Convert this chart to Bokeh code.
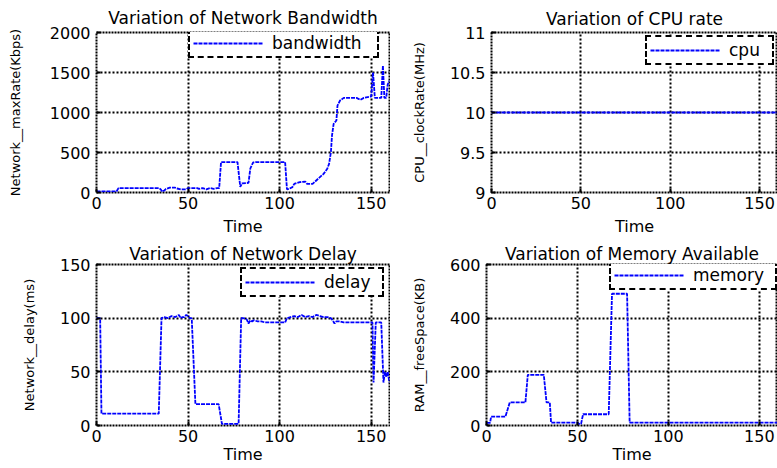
from bokeh.plotting import figure
from bokeh.layouts import column, row
from bokeh.models import FixedTicker, Range1d, NumeralTickFormatter
from bokeh.embed import file_html
from bokeh.resources import INLINE

FONT = "DejaVu Sans"

time_ticks = [0, 50, 100, 150]

# Network bandwidth (Kbps)
bw_t = [0, 11, 12, 34, 35, 36, 37, 38, 40, 43, 44, 46, 49, 50, 55, 56, 58, 60, 62, 64,
        66, 67, 68, 77, 78.5, 79.5, 83, 84, 85.5, 87, 103, 104, 105, 107, 108, 111, 114, 115, 118, 120,
        122, 124, 126, 127, 128, 128.6, 129.5, 131, 131.6, 133, 135, 142, 144, 146, 150, 151, 152, 155.5,
        156.4, 157.2, 158.2, 159, 160]
bw_v = [15, 15, 55, 55, 40, 10, 25, 45, 60, 60, 50, 40, 40, 55, 55, 45, 55, 40, 55, 45,
        55, 55, 380, 380, 70, 115, 120, 300, 375, 380, 380, 40, 45, 67, 108, 129, 137, 108, 108, 150,
        192, 233, 296, 358, 504, 712, 858, 900, 1087, 1150, 1183, 1183, 1158, 1183, 1200, 1500, 1183, 1183,
        1587, 1183, 1183, 1350, 1400]
bw_ticks = [0, 500, 1000, 1500, 2000]

# CPU clock rate (MHz)
cpu_t = [0, 160]
cpu_v = [10, 10]
cpu_ticks = [9, 9.5, 10, 10.5, 11]

# Network delay (ms)
delay_t = [0, 2, 2.7, 34, 35.5, 37, 39, 41, 43, 45, 46, 47, 48, 49, 50, 51, 52, 54, 66.7, 68.5,
           77.6, 79, 80, 82, 83, 84, 85, 86, 88, 90, 92, 100, 103, 104, 106, 108, 110, 112, 114, 116,
           118, 120, 122, 124, 126, 128, 129, 130, 131, 133, 135, 150, 150.7, 151.3, 152.5, 155.5,
           156.7, 157.5, 158.3, 159, 160]
delay_v = [100, 100, 11, 11, 100, 101, 100, 102, 101, 103, 100, 101, 101, 103, 102, 100, 100, 20, 20, 1.5,
           1.5, 100, 100, 99, 95, 98, 97, 98, 97, 97, 96, 96, 96, 100, 101, 102, 101, 103, 101, 102,
           101, 103, 102, 101, 101, 100, 98, 95, 97, 97, 96, 96, 96, 40, 96, 96,
           40, 50, 45, 50, 40]
delay_ticks = [0, 50, 100, 150]

# Memory available (KB)
mem_t = [0, 2, 2.5, 10.4, 12.8, 21.4, 22.7, 31.5, 33, 34.8, 35.5, 50, 51, 52, 53.1, 67.2, 69, 77.3, 78.7, 160]
mem_v = [10, 10, 33, 33, 86, 86, 189, 189, 86, 86, 11, 11, 6, 6, 42, 42, 491, 491, 11, 11]
mem_ticks = [0, 200, 400, 600]


def make(title, ylabel, xs, ys, legend, y_start, y_end, yticks, width, height,
         borders, legend_loc, label_width, ylabel_standoff, title_standoff,
         tick_standoff, xlabel_standoff, fmt=None):
    p = figure(width=width, height=height, output_backend="svg", toolbar_location=None,
               x_range=Range1d(0, 160), y_range=Range1d(y_start, y_end),
               min_border_left=borders[0], min_border_right=borders[1],
               min_border_top=borders[2], min_border_bottom=borders[3],
               title=title)
    p.line(xs, ys, line_color="#0000FF", line_width=1.8, line_dash="4 1", legend_label=legend)

    p.title.align = "center"
    p.title.text_font = FONT
    p.title.text_font_size = "17px"
    p.title.text_font_style = "normal"
    p.title.text_color = "black"
    p.title.standoff = title_standoff

    p.background_fill_color = "white"
    p.border_fill_color = "white"
    p.outline_line_color = "black"
    p.outline_line_width = 2
    p.outline_line_dash = "2 1"
    p.outline_line_alpha = 1

    p.xaxis.ticker = FixedTicker(ticks=time_ticks)
    p.yaxis.ticker = FixedTicker(ticks=yticks)
    if fmt is not None:
        p.yaxis.formatter = fmt

    p.grid.grid_line_color = "black"
    p.grid.grid_line_dash = "2 2"
    p.grid.grid_line_width = 2
    p.grid.grid_line_alpha = 1

    p.axis.axis_line_color = None
    p.axis.major_tick_in = 4
    p.axis.major_tick_out = 0
    p.axis.major_tick_line_width = 2
    p.axis.major_tick_line_color = "black"
    p.axis.minor_tick_line_color = None
    p.axis.major_label_text_font = FONT
    p.axis.major_label_text_font_size = "16px"
    p.axis.major_label_text_color = "black"
    p.axis.major_label_standoff = 6

    p.xaxis.axis_label = "Time"
    p.xaxis.axis_label_text_font = FONT
    p.xaxis.axis_label_text_font_size = "16px"
    p.xaxis.axis_label_text_font_style = "normal"
    p.xaxis.axis_label_text_color = "black"
    p.xaxis.major_label_standoff = tick_standoff
    p.xaxis.axis_label_standoff = xlabel_standoff

    p.yaxis.axis_label = ylabel
    p.yaxis.axis_label_text_font = FONT
    p.yaxis.axis_label_text_font_size = "13px"
    p.yaxis.axis_label_text_font_style = "normal"
    p.yaxis.axis_label_text_color = "black"
    p.yaxis.axis_label_standoff = ylabel_standoff

    lg = p.legend[0]
    lg.location = legend_loc
    lg.padding = 3
    lg.spacing = 0
    lg.margin = 0
    lg.glyph_width = 70
    lg.glyph_height = 20
    lg.label_height = 20
    lg.label_width = label_width
    lg.label_standoff = 9
    lg.label_text_font = FONT
    lg.label_text_font_size = "17px"
    lg.label_text_color = "black"
    lg.border_line_color = "black"
    lg.border_line_width = 2
    lg.border_line_dash = "2 1"
    lg.border_line_alpha = 1
    lg.background_fill_color = "white"
    lg.background_fill_alpha = 1
    return p


p1 = make("Variation of Network Bandwidth", "Network__maxRate(Kbps)", bw_t, bw_v, "bandwidth",
          0, 2000, bw_ticks, 390, 240, (96, 1, 32, 48), (92, 134), 102, 24, 9, 4, 5)
p2 = make("Variation of CPU rate", "CPU__clockRate(MHz)", cpu_t, cpu_v, "cpu",
          9, 11, cpu_ticks, 387, 240, (101, 0, 29, 47), (154, 127), 40, 20, 7, 4, 5,
          fmt=NumeralTickFormatter(format="0.[0]"))
p3 = make("Variation of Network Delay", "Network__delay(ms)", delay_t, delay_v, "delay",
          0, 150, delay_ticks, 390, 228, (96, 1, 24, 43), (144, 128), 55, 20, 2, 4, 0)
p4 = make("Variation of Memory Available", "RAM__freeSpace(KB)", mem_t, mem_v, "memory",
          0, 600, mem_ticks, 387, 228, (96, 0, 24, 43), (123, 135), 79, 20, 2, 4, 0)

layout = column(row(p1, p2), row(p3, p4))

with open("out.html", "w") as f:
    f.write(file_html(layout, INLINE))
